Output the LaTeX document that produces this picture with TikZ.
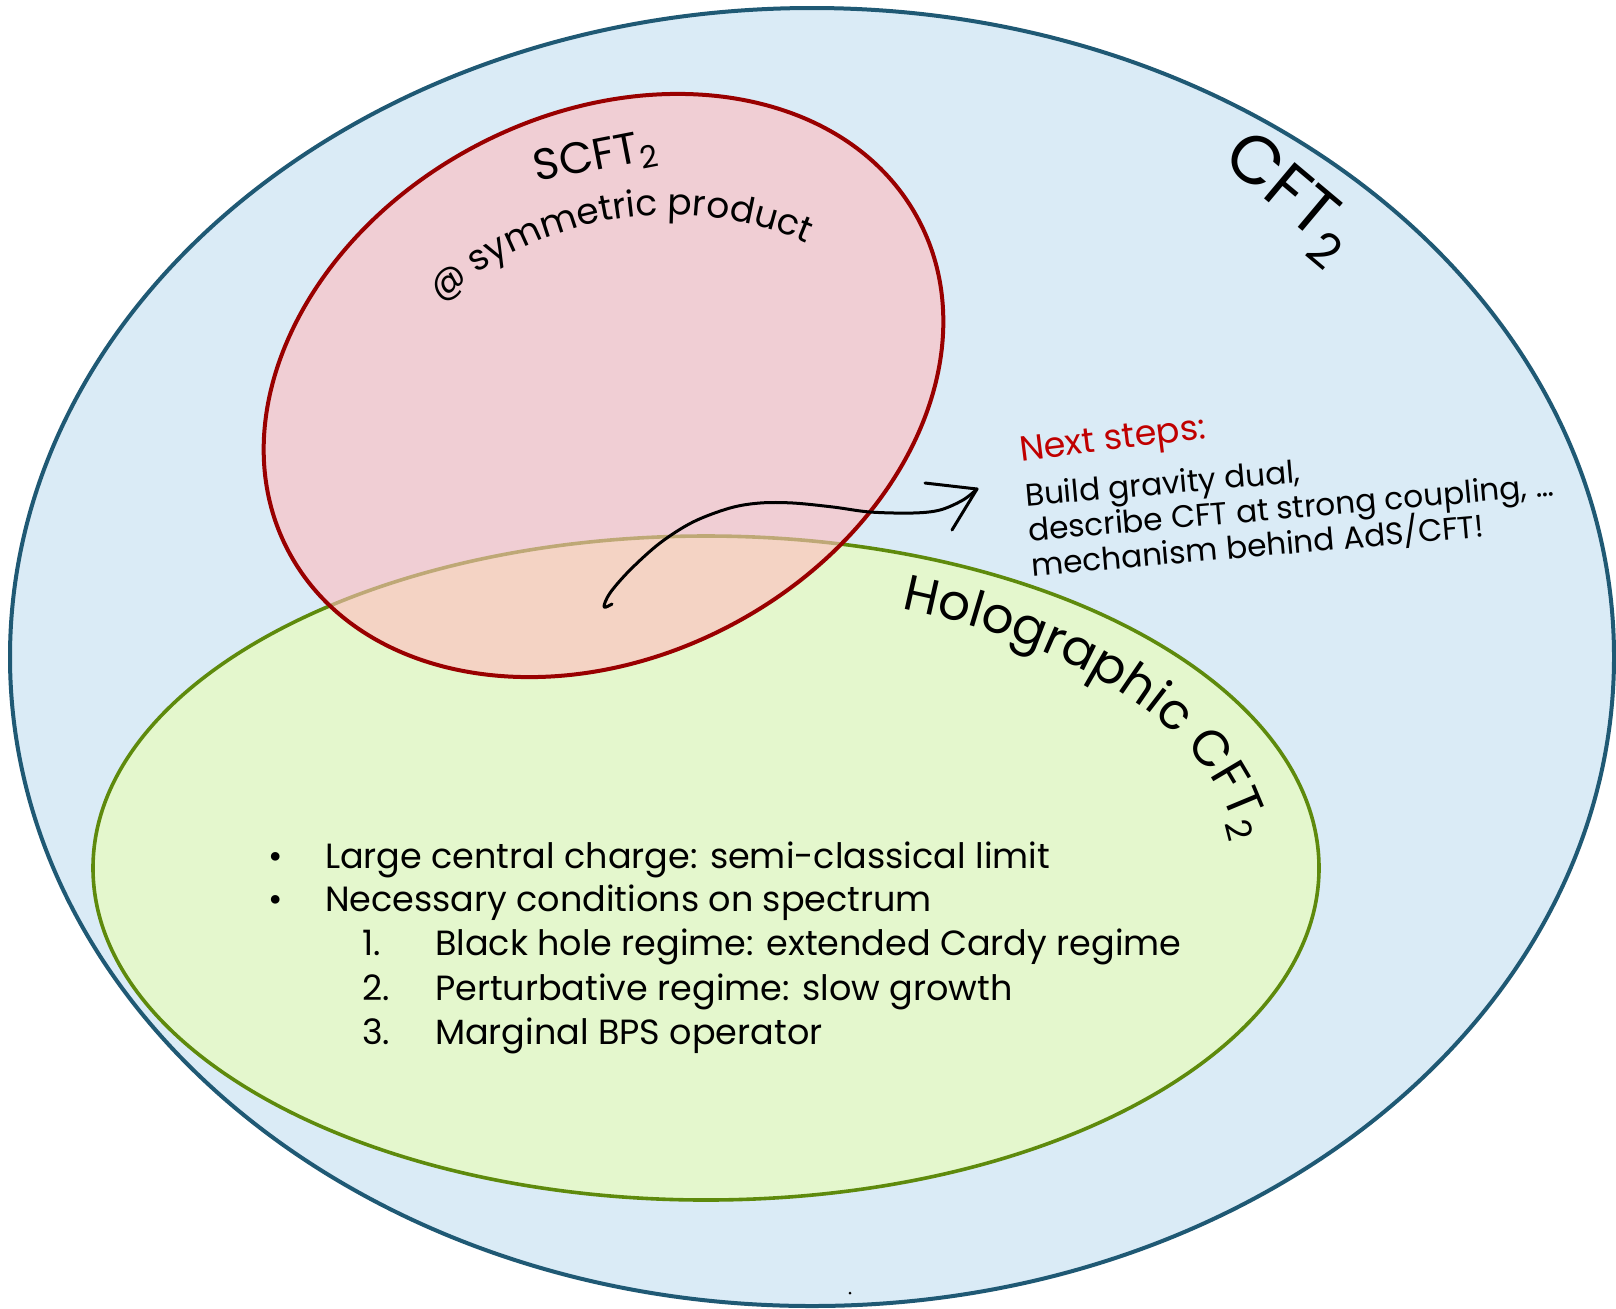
\documentclass[tikz,border=0pt]{standalone}
\usepackage{fontspec}
\setmainfont{Poppins}
\usetikzlibrary{decorations.text}

\definecolor{cftfill}{RGB}{218,235,246}
\definecolor{cftline}{RGB}{31,89,116}
\definecolor{holofill}{RGB}{228,247,205}
\definecolor{hololine}{RGB}{94,138,12}
\definecolor{scftfill}{RGB}{255,188,190}
\definecolor{scftline}{RGB}{153,0,0}
\definecolor{nextred}{RGB}{192,0,0}

\tikzset{
  setline/.style={line width=#1},
  biglabel/.style={font=\fontsize{#1}{#1}\selectfont},
  listline/.style={anchor=base west, font=\fontsize{17.5}{21}\selectfont},
  noteline/.style={anchor=base west, rotate=5, font=\fontsize{15.6}{18}\selectfont},
  pen/.style={line width=1.5pt, line cap=round, line join=round}
}

\begin{document}
\begin{tikzpicture}[x=0.5pt,y=-0.5pt]
\useasboundingbox (0,0) rectangle (1616,1308);
\fill[white] (0,0) rectangle (1616,1308);

% all 2D CFTs
\draw[setline=2pt, draw=cftline, fill=cftfill] (812,657) ellipse [x radius=802, y radius=649];

% holographic CFTs
\draw[setline=1.8pt, draw=hololine, fill=holofill] (706,868) ellipse [x radius=613, y radius=332];

% symmetric product orbifolds, tilted and see-through
\begin{scope}[shift={(603.5,385.5)}, rotate=27.5]
  \draw[setline=2pt, draw=scftline, fill=scftfill, fill opacity=0.6] (0,0) ellipse [x radius=356, y radius=271.5];
\end{scope}

% set labels
\node[biglabel=34, rotate=-40] (cft) at (1288,199) {CFT\textsubscript{2}};
\node[biglabel=22, anchor=base west, rotate=11] (scft) at (530,183) {SCFT\textsubscript{2}};
\path[decorate, decoration={text along path, text align=center,
    text={|\fontsize{18}{20}\selectfont|@ symmetric product}}]
  (670,560) ++(-131.5:345) arc [start angle=-131.5, end angle=-66.8, radius=345];
\path[decorate, decoration={text along path, text align=left,
    text={|\fontsize{25}{30}\selectfont|Holographic CFT{\textsubscript{2}}}}]
  (706,868) ++(-68.5:534 and 279) arc [start angle=-68.5, end angle=8, x radius=534, y radius=279];

% outlook
\node[anchor=base west, rotate=7, text=nextred, font=\fontsize{17.5}{20}\selectfont] (next) at (1014,462) {Next steps:};
\node[noteline] (note1) at (1019,507) {Build gravity dual,};
\node[noteline] (note2) at (1022,542) {describe CFT at strong coupling, \dots};
\node[noteline] (note3) at (1025,577) {mechanism behind AdS/CFT!};

% hand-drawn arrow from the overlap to the outlook
\coordinate (arrowstart) at (612,604);
\coordinate (arrowtip) at (977,489);
\draw[pen] plot[smooth, tension=0.55] coordinates {(arrowstart) (604,607) (610,593) (630,570) (660,543) (693,522) (730,508) (760,503) (793,503) (833,507) (870,512) (913,513) (940,510) (963,500) (arrowtip)};
\draw[pen] (925,483) -- (arrowtip) -- (952,530);

% properties of holographic CFTs
\node[listline] (b1) at (261,868) {•};
\node[listline] (l1) at (318,868) {Large central charge: semi-classical limit};
\node[listline] (b2) at (261,911) {•};
\node[listline] (l2) at (318,911) {Necessary conditions on spectrum};
\node[listline] (n1) at (355,955) {1.};
\node[listline] (l3) at (428,955) {Black hole regime: extended Cardy regime};
\node[listline] (n2) at (355,1000) {2.};
\node[listline] (l4) at (428,1000) {Perturbative regime: slow growth};
\node[listline] (n3) at (355,1044) {3.};
\node[listline] (l5) at (428,1044) {Marginal BPS operator};

\fill (850,1293) circle [radius=1.5];
\end{tikzpicture}
\end{document}
